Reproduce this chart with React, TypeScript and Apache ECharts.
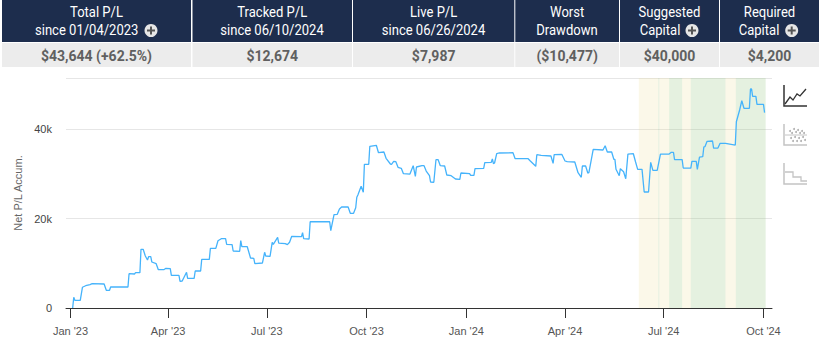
import React, { useEffect, useRef } from "react";
import * as echarts from "echarts";

// days since 2023-01-01, and accumulated P/L
const tradeDays = [2,3,4,9,11,14,18,20,31,33,36,37,53,54,59,60,64,65,67,69,71,72,74,75,79,81,86,88,92,93,100,101,103,107,108,114,115,120,121,128,129,134,136,139,143,144,149,150,156,157,158,163,166,169,170,177,179,180,184,186,187,191,192,198,200,202,204,213,214,215,220,221,239,240,243,246,248,250,256,258,261,263,264,265,268,270,271,275,276,282,284,289,291,295,296,298,300,302,305,307,313,316,318,319,324,326,328,331,332,335,337,339,341,345,347,351,355,359,360,368,369,372,373,381,382,388,389,390,391,393,395,408,410,422,424,429,430,434,443,445,446,453,456,458,465,468,471,472,475,477,478,482,491,493,495,499,501,502,503,506,507,510,512,514,519,521,523,527,529,533,535,537,541,544,552,554,556,557,564,565,572,573,577,578,580,583,584,585,587,592,593,597,599,604,613,614,617,619,621,626,627,628,629,632,633,639,640];
const netPL = [0,2400,1720,1720,4630,4980,5210,5430,5360,3960,3960,4690,4690,7660,7600,7890,7890,13120,13120,11620,10730,11460,11460,10280,9900,8560,8560,8870,8780,7310,7310,5970,6030,7980,6640,6640,8270,8270,10880,10880,13340,13340,15040,15490,15490,14230,14150,12740,12670,15080,13700,13700,11170,11110,9900,10060,12450,11620,11550,14680,14230,15800,14520,14370,14150,14680,16020,15930,16830,15490,15420,19280,19280,17270,20850,20940,22120,22570,22570,21160,21160,22410,24740,25250,27190,25850,32110,32110,36130,36360,34700,34860,33450,32180,32110,32780,32690,31440,31220,30010,29940,31800,29430,31510,31800,31800,30610,29560,28160,28090,33140,33140,31800,31730,29720,29560,28830,28760,30170,30010,29650,29650,31130,31220,32470,32560,33300,32250,32400,34480,34640,34700,33360,33360,32850,31660,34260,34120,33970,32330,34260,34350,32850,32690,32630,30230,29210,31730,31730,30170,30230,35460,35310,36270,34860,34860,33230,33230,30990,29560,31130,30460,28890,34410,34480,32690,30990,30990,25920,25920,32560,30770,30770,34410,34410,34790,34790,33140,33140,31280,31280,32780,32780,30990,33740,33810,35980,36040,37250,37320,35750,35750,36800,36800,36420,41630,44250,46320,44630,44630,48940,48940,47310,47310,45520,45520,43644];

// [from day, to day, kind]
const bands: [number, number, string][] = [[524,542,"y"],[542,543,"g"],[543,552,"y"],[552,564,"g"],[564,572,"y"],[572,604,"g"],[604,613.5,"y"],[613.5,641,"g"]];
const tickDates = [[2023,0],[2023,3],[2023,6],[2023,9],[2024,0],[2024,3],[2024,6],[2024,9]];
const monthNames = ["Jan","Feb","Mar","Apr","May","Jun","Jul","Aug","Sep","Oct","Nov","Dec"];

const headerLine1 = ["Total P/L","Tracked P/L","Live P/L","Worst","Suggested","Required"];
const headerLine2 = ["since 01/04/2023","since 06/10/2024","since 06/26/2024","Drawdown","Capital","Capital"];
const headerValues = ["$43,644 (+62.5%)","$12,674","$7,987","($10,477)","$40,000","$4,200"];
const cellEdges = [[2,191],[192.5,352],[353,514.3],[515.3,619],[620,719],[720,819]];
const line2Centers = [86.7,272,433.5,567,660,759];
const plusIcons = [151,692,791.7];

const DAY = 86400000;
const T0 = Date.UTC(2023,0,1);
const toTime = (d: number) => T0 + d*DAY;

function headerGraphics() {
  const els: any[] = [];
  cellEdges.forEach(([a,b],i) => {
    els.push({type:"rect",shape:{x:a,y:0,width:b-a,height:42},style:{fill:"#1d2d4d"}});
    els.push({type:"rect",shape:{x:a,y:43,width:b-a,height:24},style:{fill:"#ececec"}});
    const c=(a+b)/2;
    els.push({type:"text",x:c,y:12,scaleX:0.9,style:{text:headerLine1[i],fill:"#fff",font:"14.5px Roboto",textAlign:"center",textVerticalAlign:"middle"}});
    els.push({type:"text",x:line2Centers[i],y:30,scaleX:0.9,style:{text:headerLine2[i],fill:"#fff",font:"14.5px Roboto",textAlign:"center",textVerticalAlign:"middle"}});
    els.push({type:"text",x:c,y:55.5,style:{text:headerValues[i],fill:"#606060",font:"bold 14px Roboto",textAlign:"center",textVerticalAlign:"middle"}});
  });
  plusIcons.forEach((x)=>{
    els.push({type:"circle",shape:{cx:x,cy:30.5,r:6.5},style:{fill:"#e6e6e6"}});
    els.push({type:"rect",shape:{x:x-4,y:29.5,width:8,height:2},style:{fill:"#555"}});
    els.push({type:"rect",shape:{x:x-1,y:26.5,width:2,height:8},style:{fill:"#555"}});
  });
  return els;
}

function iconGraphics() {
  const els: any[] = [];
  const axes = (top:number,color:string,w:number)=>({type:"polyline",shape:{points:[[784,top],[784,top+21],[807,top+21]]},style:{stroke:color,fill:"none",lineWidth:w}});
  els.push(axes(85,"#333",1.5));
  els.push({type:"polyline",shape:{points:[[785,104],[790,97],[793,100],[797,94],[800,96],[806,89]]},style:{stroke:"#333",fill:"none",lineWidth:1.3}});
  els.push(axes(124,"#c4c4c4",1.5));
  els.push({type:"line",shape:{x1:785,y1:135,x2:807,y2:135},style:{stroke:"#c4c4c4",lineWidth:1}});
  [[790,131],[794,129],[798,130],[802,131],[792,133],[796,132],[800,133],[804,133],[791,138],[795,137],[799,138],[803,137],[793,141],[797,141],[801,141],[805,140]].forEach(([x,y])=>
    els.push({type:"circle",shape:{cx:x,cy:y,r:1},style:{fill:"#b0b0b0"}}));
  els.push(axes(163,"#c4c4c4",1.5));
  els.push({type:"polyline",shape:{points:[[785,172],[793,172],[793,177],[801,177],[801,181],[807,181]]},style:{stroke:"#c4c4c4",fill:"none",lineWidth:1.3}});
  return els;
}

export default function App() {
  const ref = useRef<HTMLDivElement>(null);
  useEffect(() => {
    const chart = echarts.init(ref.current!, undefined, { renderer: "svg" });
    const ticks = tickDates.map(([y,m])=>Date.UTC(y,m,1));
    chart.setOption({
      animation:false,
      grid:{left:66,top:78,width:706,height:230,outerBoundsMode:"none"},
      xAxis:{
        type:"value",
        min:toTime(-4.15),
        max:toTime(646.85),
        splitLine:{show:false},
        axisLine:{onZero:false,lineStyle:{color:"#333",width:1}},
        axisTick:{show:true,length:10,customValues:ticks,lineStyle:{color:"#333",width:1}},
        axisLabel:{
          customValues:ticks,
          margin:17,
          hideOverlap:false,
          showMinLabel:true,
          showMaxLabel:true,
          color:"#555",
          fontFamily:"Liberation Sans",
          fontSize:11,
          formatter:(v:number)=>{const d=new Date(v);return `${monthNames[d.getUTCMonth()]} '${String(d.getUTCFullYear()).slice(2)}`;},
        },
      },
      yAxis:{
        type:"value",
        min:0,
        max:51400,
        interval:20000,
        name:"Net P/L Accum.",
        nameLocation:"middle",
        nameGap:41,
        nameTextStyle:{color:"#666",fontFamily:"Liberation Sans",fontSize:11},
        axisLine:{show:false},
        axisTick:{show:false},
        splitLine:{lineStyle:{color:"#e6e6e6",width:1}},
        axisLabel:{
          margin:14,
          padding:[2,0,0,0],
          color:"#444",
          fontFamily:"Liberation Sans",
          fontSize:11,
          showMaxLabel:false,
          formatter:(v:number)=>v===0?"0":`${v/1000}k`,
        },
      },
      series:[{
        type:"line",
        data:tradeDays.map((d,i)=>[toTime(d),netPL[i]]),
        showSymbol:false,
        smooth:false,
        lineStyle:{color:"#45b3fb",width:1.3},
        markArea:{
          silent:true,
          data:bands.map(([a,b,k])=>[
            {xAxis:toTime(a),itemStyle:{color:k==="y"?"rgba(235,220,145,0.2)":"rgba(150,200,130,0.25)"}},
            {xAxis:toTime(b)},
          ]),
        },
      }],
      graphic:{elements:[...headerGraphics(),...iconGraphics()]},
    });
    return () => chart.dispose();
  }, []);
  return (
    <div style={{position:"fixed",left:0,top:0,width:819,height:352,overflow:"hidden",background:"#fff"}}>
      <div ref={ref} style={{width:819,height:352}} />
    </div>
  );
}
